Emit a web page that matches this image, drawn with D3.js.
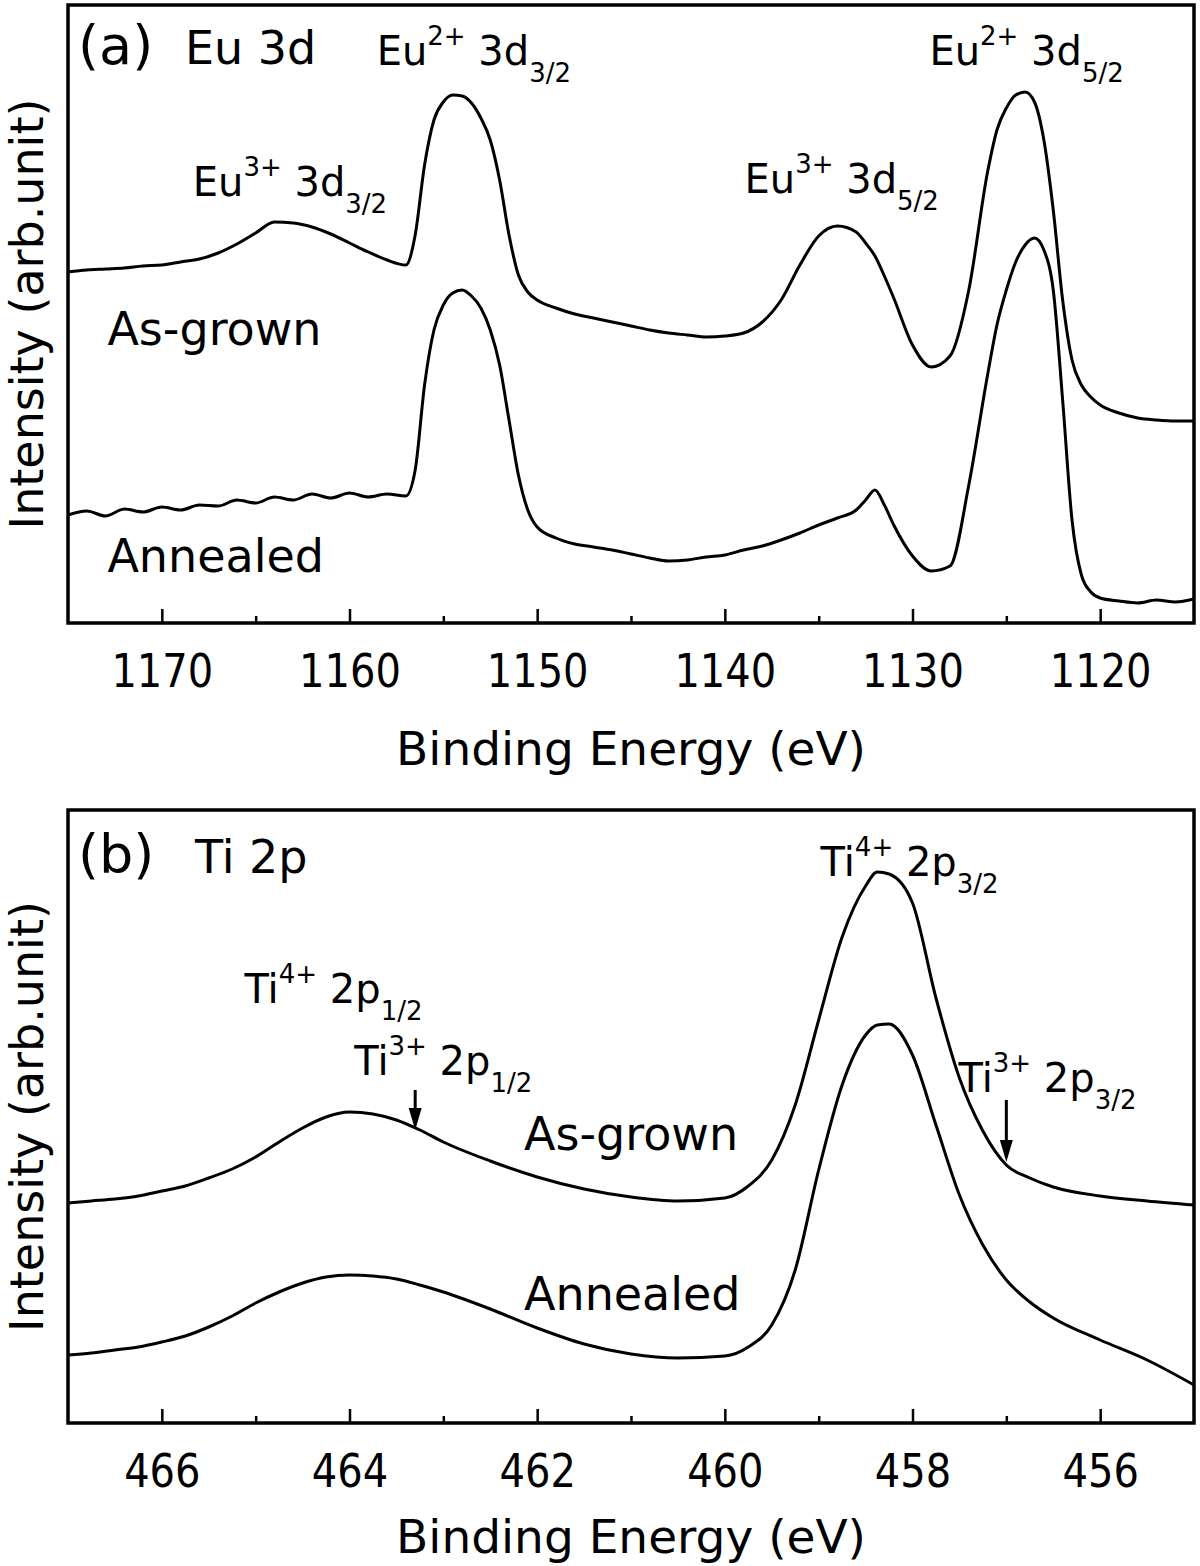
<!DOCTYPE html>
<html><head><meta charset="utf-8">
<script src="https://cdn.jsdelivr.net/npm/d3@7"></script>
<style>
body{margin:0;background:#fff}
svg{display:block}
text{font-family:"DejaVu Sans",Verdana,sans-serif;fill:#000;white-space:pre}
.tick text{transform:scaleX(0.87);transform-box:fill-box;transform-origin:center}
</style></head><body>
<svg id="c" width="1200" height="1566"></svg>
<script>
// ---------- DATA ----------
// Panel (a) Eu 3d : binding energy (eV) and intensities (arb. units)
const euEnergy = [1175,1174,1173,1172,1171,1170,1169,1168,1167,1166,1165,1164,1163,1162,1161,1160,1159,1158,1157,
  1156.5,1156,1155.5,1155,1154.5,1154,1153.5,1153,1152.5,1152,1151.5,1151,1150.5,1150,
  1149,1148,1147,1146,1145,1144,1143,1142,1141,1140,1139,1138,1137,1136,1135,1134,1133,
  1132.5,1132,1131.5,1131,1130,1129,1128,1127,1126,1125.5,1125,1124.5,1124,1123.5,1123,1122.5,1122,1121.5,1121,1120.5,
  1120,1119,1118,1117,1116,1115];
const euAsGrown = [351,353,354,355,357,358,361,364,370,379,390,401,400,396,389,380,371,363,358,
  388,458,503,521,528,527,520,505,483,443,388,348,331,323,
  315,309,305,301,297,293,290,288,286,287,290,301,323,358,387,397,391,
  380,367,347,325,278,256,267,333,451,493,515,528,531,521,483,413,323,263,238,226,
  218,210,205,203,202,202];
const euAnnealed = [108,112,107,114,111,116,113,118,117,123,120,126,123,129,125,130,126,129,127,
  153,238,293,318,330,333,327,315,293,258,203,148,113,96,
  85,79,76,73,69,65,62,63,66,68,73,77,83,90,98,105,113,
  123,133,118,98,67,52,57,138,248,298,333,361,378,385,373,333,223,103,48,31,
  25,22,20,23,21,24];
const euXDomain = [1175, 1115];
const euYDomain = [0, 618];
const euTicks = [1170,1160,1150,1140,1130,1120];
const euMinorTicks = [1165,1155,1145,1135,1125];

// Panel (b) Ti 2p
const tiEnergy = [467,466.75,466.5,466.25,466,465.75,465.5,465.25,465,464.75,464.5,464.25,464,463.75,463.5,463.25,463,
  462.5,462,461.5,461,460.5,460,459.75,459.5,459.25,459,458.75,458.5,458.375,458.25,458,457.75,457.5,457.25,457,
  456.75,456.5,456,455.5,455];
const tiAsGrown = [220,222,224,227,232,237,245,254,266,281,295,306,311,309,303,293,281,
  262,246,234,226,222,225,237,263,318,403,486,537,551,549,520,425,345,292,258,
  245,236,227,222,218];
const tiAnnealed = [68,70,73,76,81,87,96,107,120,131,140,146,148,147,144,138,131,
  114,95,79,69,65,67,76,98,153,253,338,388,398,399,368,298,228,178,143,
  121,105,83,63,38];
const tiXDomain = [467, 455];
const tiYDomain = [0, 613];
const tiTicks = [466,464,462,460,458,456];
const tiMinorTicks = [465,463,461,459,457];

// Annotations: [x (eV), y (arb.), parts]
const euLabels = [
  {e:1158.55, v:558, parts:[["Eu"],["2+","sup"],[" 3d"],["3/2","sub"]]},
  {e:1129.1,  v:558, parts:[["Eu"],["2+","sup"],[" 3d"],["5/2","sub"]]},
  {e:1168.35, v:427, parts:[["Eu"],["3+","sup"],[" 3d"],["3/2","sub"]]},
  {e:1138.95, v:430, parts:[["Eu"],["3+","sup"],[" 3d"],["5/2","sub"]]}
];
const tiLabels = [
  {e:458.98, v:547, parts:[["Ti"],["4+","sup"],[" 2p"],["3/2","sub"]]},
  {e:465.12, v:420, parts:[["Ti"],["4+","sup"],[" 2p"],["1/2","sub"]]},
  {e:463.95, v:348, parts:[["Ti"],["3+","sup"],[" 2p"],["1/2","sub"]]},
  {e:457.51, v:331, parts:[["Ti"],["3+","sup"],[" 2p"],["3/2","sub"]]}
];
const tiArrows = [{e:463.3, from:333, to:293},{e:457.0, from:323, to:261}];

// ---------- DRAW ----------
const svg = d3.select("#c");
const L = 68, R = 1194;

function richText(g, x, y, parts, size) {
  const t = g.append("text").attr("x", x).attr("y", y).attr("font-size", size);
  let shift = 0;
  parts.forEach(([s, kind]) => {
    const target = kind === "sup" ? -20 : kind === "sub" ? 17 : 0;
    t.append("tspan").attr("dy", target - shift)
      .attr("font-size", kind ? 26 : size).text(s);
    shift = target;
  });
  return t;
}

function panel(cfg) {
  const g = svg.append("g");
  const x = d3.scaleLinear().domain(cfg.xDomain).range([L, R]);
  const y = d3.scaleLinear().domain(cfg.yDomain).range([cfg.bottom, cfg.top]);
  const line = d3.line().x(d => x(d[0])).y(d => y(d[1])).curve(d3.curveMonotoneX);

  cfg.series.forEach(s => {
    g.append("path").datum(cfg.energy.map((e, i) => [e, s[i]]))
      .attr("fill", "none").attr("stroke", "#000").attr("stroke-width", 3)
      .attr("stroke-linejoin", "round").attr("d", line);
  });

  // minor ticks
  const minor = g.append("g").attr("transform", `translate(0,${cfg.bottom})`)
    .call(d3.axisBottom(x).tickValues(cfg.minor).tickSizeInner(-7).tickSizeOuter(0).tickFormat(""));
  minor.select(".domain").remove();
  minor.selectAll("line").attr("stroke-width", 2.5);

  const ax = g.append("g").attr("transform", `translate(0,${cfg.bottom})`)
    .call(d3.axisBottom(x).tickValues(cfg.ticks).tickSizeInner(-14).tickSizeOuter(0).tickPadding(31).tickFormat(d3.format("d")));
  ax.attr("font-size", null).attr("font-family", null);
  ax.select(".domain").remove();
  ax.selectAll("line").attr("stroke-width", 2.5);
  ax.selectAll("text").attr("font-size", 46).attr("fill", "#000");

  g.append("rect").attr("x", L).attr("y", cfg.top).attr("width", R - L).attr("height", cfg.bottom - cfg.top)
    .attr("fill", "none").attr("stroke", "#000").attr("stroke-width", 3.5);

  g.append("text").attr("x", (L + R) / 2).attr("y", cfg.bottom + cfg.titleGap).attr("text-anchor", "middle")
    .attr("font-size", 47).text("Binding Energy (eV)");
  g.append("text").attr("transform", `translate(43,${(cfg.top + cfg.bottom) / 2}) rotate(-90)`)
    .attr("text-anchor", "middle").attr("font-size", 46).text("Intensity (arb.unit)");

  // panel tag
  g.append("text").attr("x", 78).attr("y", y(cfg.tagV)).attr("font-size", 54).text(cfg.tag);
  g.append("text").attr("x", cfg.nameX).attr("y", y(cfg.tagV)).attr("font-size", 46).text(cfg.name);

  cfg.labels.forEach(l => richText(g, x(l.e), y(l.v), l.parts, 40));
  cfg.seriesNames.forEach(n => {
    g.append("text").attr("x", x(n.e)).attr("y", y(n.v)).attr("font-size", 46).text(n.t);
  });
  (cfg.arrows || []).forEach(a => {
    const ax0 = x(a.e), y0 = y(a.from), y1 = y(a.to);
    g.append("line").attr("x1", ax0).attr("x2", ax0).attr("y1", y0).attr("y2", y1 - 10)
      .attr("stroke", "#000").attr("stroke-width", 3);
    g.append("path").attr("d", `M${ax0},${y1} L${ax0 - 6.5},${y1 - 22} L${ax0 + 6.5},${y1 - 22} Z`).attr("fill", "#000");
  });
}

panel({
  xDomain: euXDomain, yDomain: euYDomain, top: 5, bottom: 623, titleGap: 142,
  energy: euEnergy, series: [euAsGrown, euAnnealed],
  ticks: euTicks, minor: euMinorTicks,
  tag: "(a)", name: "Eu 3d", nameX: 185, tagV: 559,
  labels: euLabels,
  seriesNames: [{t:"As-grown", e:1172.9, v:278}, {t:"Annealed", e:1172.9, v:51}]
});
panel({
  xDomain: tiXDomain, yDomain: tiYDomain, top: 810, bottom: 1423, titleGap: 130,
  energy: tiEnergy, series: [tiAsGrown, tiAnnealed],
  ticks: tiTicks, minor: tiMinorTicks,
  tag: "(b)", name: "Ti 2p", nameX: 195, tagV: 550,
  labels: tiLabels, arrows: tiArrows,
  seriesNames: [{t:"As-grown", e:462.14, v:273}, {t:"Annealed", e:462.14, v:113}]
});
</script>
</body></html>
